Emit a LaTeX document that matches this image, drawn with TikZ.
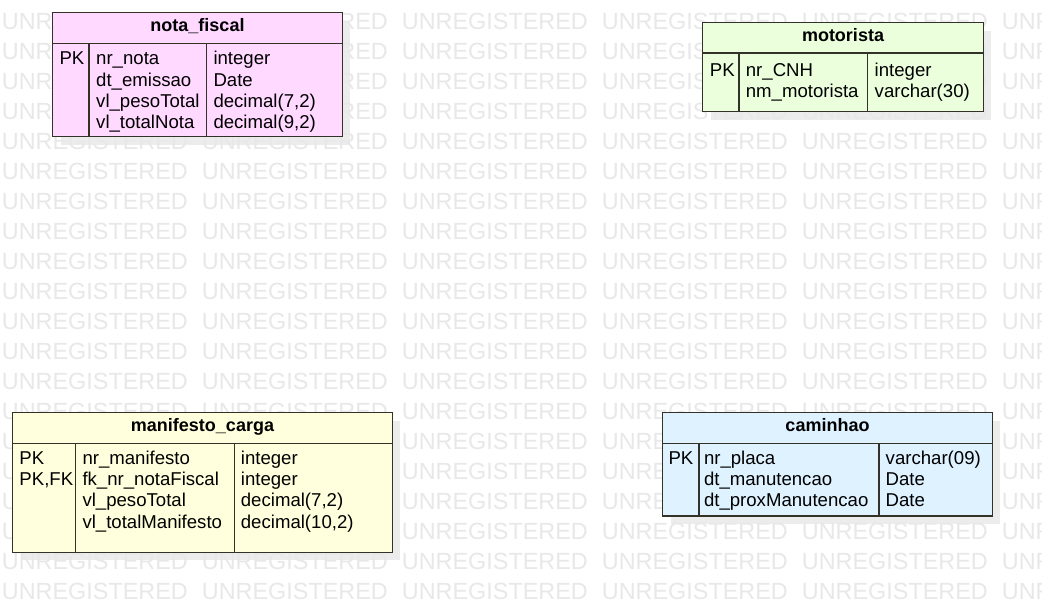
\documentclass[tikz,border=0pt]{standalone}
\usepackage{fontspec}
\setmainfont{Liberation Sans}
\definecolor{edgecol}{RGB}{50,50,40}
\definecolor{pinkfill}{RGB}{255,217,255}
\definecolor{greenfill}{RGB}{236,255,221}
\definecolor{yellowfill}{RGB}{255,255,221}
\definecolor{bluefill}{RGB}{222,242,255}
\definecolor{shadowcol}{RGB}{236,236,236}
\definecolor{markcol}{RGB}{232,232,232}
\tikzset{
  wm/.style={anchor=base west, inner sep=0pt, text=markcol,
    font=\fontsize{23.4}{23.4}\selectfont},
  shadowbox/.style={fill=shadowcol, draw=none},
  entity/.style={draw=edgecol, line width=1.4pt, anchor=north west,
    inner sep=0pt, outer sep=0pt},
  rule/.style={draw=edgecol, line width=1.4pt},
  title/.style={anchor=base, inner sep=0pt,
    font=\bfseries\fontsize{18}{18}\selectfont},
  cell/.style={anchor=base west, inner sep=0pt,
    font=\fontsize{18.6}{18.6}\selectfont},
}
\begin{document}
\begin{tikzpicture}[x=1pt,y=-1pt]
\useasboundingbox (0,0) rectangle (1042,602);
\fill[white] (0,0) rectangle (1042,602);

% drop shadows of the tables
\fill[shadowbox] (60.7,20.7) rectangle (350.3,144.7);
\fill[shadowbox] (710.7,30.7) rectangle (991.3,119.7);
\fill[shadowbox] (20.7,420.7) rectangle (400.3,560.3);
\fill[shadowbox] (670.7,420.7) rectangle (1000.3,524);

% background stamp
\foreach \r in {0,...,19}
  \foreach \c in {0,...,5}
    \node[wm] (wm-\r-\c) at (1.7+200*\c, 29.3+30*\r) {UNREGISTERED};

% ---------- nota_fiscal ----------
\node[entity, fill=pinkfill, minimum width=289.6pt, minimum height=124pt]
  (nf) at (52.7,12.7) {};
\draw[rule] (52.7,43.3) -- (342.3,43.3);
\draw[rule] (89,43.3) -- (89,136.7);
\draw[rule] (206.7,43.3) -- (206.7,136.7);
\node[title] (nf-title) at (197.5,31.7) {nota\_fiscal};
\node[cell] (nf-k1) at (59.3,65) {PK};
\foreach \n/\t [count=\i from 0] in {nr\_nota/integer, dt\_emissao/Date,
    vl\_pesoTotal/{decimal(7,2)}, vl\_totalNota/{decimal(9,2)}} {
  \node[cell] (nf-n\i) at (96,65+21.2*\i) {\n};
  \node[cell] (nf-t\i) at (213.3,65+21.2*\i) {\t};
}

% ---------- motorista ----------
\node[entity, fill=greenfill, minimum width=280.6pt, minimum height=89pt]
  (mo) at (702.7,22.7) {};
\draw[rule] (702.7,53) -- (983.3,53);
\draw[rule] (739,53) -- (739,111.7);
\draw[rule] (867.3,53) -- (867.3,111.7);
\node[title] (mo-title) at (843,41.7) {motorista};
\node[cell] (mo-k1) at (709.7,76.5) {PK};
\foreach \n/\t [count=\i from 0] in {nr\_CNH/integer,
    nm\_motorista/{varchar(30)}} {
  \node[cell] (mo-n\i) at (745.7,76.5+21.5*\i) {\n};
  \node[cell] (mo-t\i) at (874.5,76.5+21.5*\i) {\t};
}

% ---------- manifesto_carga ----------
\node[entity, fill=yellowfill, minimum width=379.6pt, minimum height=139.6pt]
  (mc) at (12.7,412.7) {};
\draw[rule] (12.7,443.3) -- (392.3,443.3);
\draw[rule] (75.7,443.3) -- (75.7,552.3);
\draw[rule] (234.3,443.3) -- (234.3,552.3);
\node[title] (mc-title) at (202.5,431.7) {manifesto\_carga};
\node[cell] (mc-k1) at (19.3,464) {PK};
\node[cell] (mc-k2) at (19.3,485.4) {PK,FK};
\foreach \n/\t [count=\i from 0] in {nr\_manifesto/integer,
    fk\_nr\_notaFiscal/integer, vl\_pesoTotal/{decimal(7,2)},
    vl\_totalManifesto/{decimal(10,2)}} {
  \node[cell] (mc-n\i) at (82.3,464+21.4*\i) {\n};
  \node[cell] (mc-t\i) at (240.7,464+21.4*\i) {\t};
}

% ---------- caminhao ----------
\node[entity, fill=bluefill, minimum width=329.6pt, minimum height=103.3pt]
  (ca) at (662.7,412.7) {};
\draw[rule] (662.7,443.3) -- (992.3,443.3);
\draw[rule] (699,443.3) -- (699,516);
\draw[rule] (879,443.3) -- (879,516);
\node[title] (ca-title) at (827.5,431.7) {caminhao};
\node[cell] (ca-k1) at (668.3,464) {PK};
\foreach \n/\t [count=\i from 0] in {nr\_placa/{varchar(09)},
    dt\_manutencao/Date, dt\_proxManutencao/Date} {
  \node[cell] (ca-n\i) at (703.8,464+21.35*\i) {\n};
  \node[cell] (ca-t\i) at (885.5,464+21.35*\i) {\t};
}
\end{tikzpicture}
\end{document}
